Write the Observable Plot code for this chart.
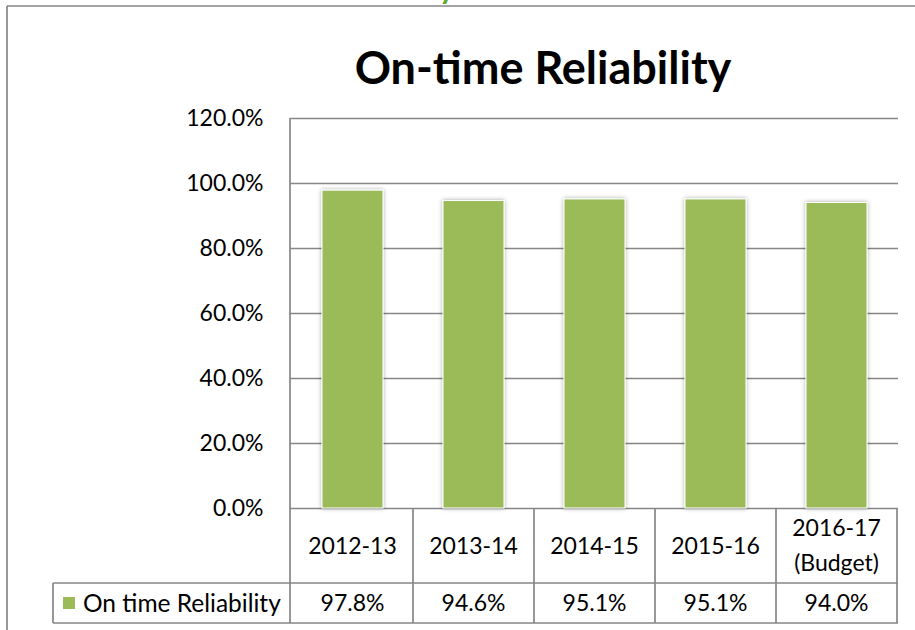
<!DOCTYPE html>
<html><head><meta charset="utf-8">
<script src="https://cdn.jsdelivr.net/npm/d3@7"></script>
<script src="https://cdn.jsdelivr.net/npm/@observablehq/plot@0.6"></script>
<style>
html,body{margin:0;padding:0;background:#fff;}
#chart{position:relative;width:915px;height:630px;overflow:hidden;}
#chart svg{display:block;}
</style></head><body><div id="chart"></div>
<script>
// ---- data ----
const categories = ["2012-13", "2013-14", "2014-15", "2015-16", "2016-17\n(Budget)"];
const values = [0.978, 0.946, 0.951, 0.951, 0.940];
const valueLabels = ["97.8%", "94.6%", "95.1%", "95.1%", "94.0%"];
const yTicks = [0, 0.2, 0.4, 0.6, 0.8, 1.0, 1.2];
const seriesName = "On time Reliability";
const titleText = "On-time Reliability";

const data = categories.map((c, i) => ({cat: c, value: values[i], label: valueLabels[i]}));
const FONT = "Lato, 'Open Sans', 'Liberation Sans', sans-serif";
const GRID = "#868686";
const BAR = "#9BBB59";

const chart = Plot.plot({
  width: 915, height: 630,
  marginLeft: 290, marginRight: 17, marginTop: 118, marginBottom: 122,
  style: {fontFamily: FONT, fontSize: "23px", color: "#000", background: "#fff", overflow: "visible"},
  x: {type: "band", domain: categories, paddingInner: 0.5, paddingOuter: 0.25, axis: null},
  y: {domain: [0, 1.2], ticks: yTicks, tickFormat: d => (d * 100).toFixed(1) + "%", tickSize: 0, tickPadding: 27, label: null},
  marks: [
    Plot.ruleY(yTicks, {stroke: GRID, strokeWidth: 1.7}),
    Plot.barY(data, {x: "cat", y: "value", fill: BAR, stroke: "#fff", strokeWidth: 1})
  ]
});
document.getElementById("chart").appendChild(chart);

const svg = d3.select(chart);
const sx = chart.scale("x"), sy = chart.scale("y");
const step = sx.step, bw = sx.bandwidth;
const xL = sx.range[0], xR = sx.range[1];
const yBase = sy.apply(0), yTop = sy.apply(1.2);
const row1 = yBase + 75, row2 = row1 + 40;
const legendLeft = 53;

// bar shadow
const defs = svg.insert("defs", ":first-child");
const f = defs.append("filter").attr("id", "barShadow").attr("x", "-20%").attr("y", "-20%").attr("width", "140%").attr("height", "140%");
f.append("feDropShadow").attr("dx", 0).attr("dy", 0).attr("stdDeviation", 2.2).attr("flood-color", "#000").attr("flood-opacity", 0.35);
svg.selectAll('g[aria-label="bar"]').attr("filter", "url(#barShadow)");

const g = svg.append("g").attr("stroke", GRID).attr("stroke-width", 1.7).attr("fill", "none");
// y axis line + table left border
g.append("line").attr("x1", xL).attr("x2", xL).attr("y1", yTop).attr("y2", row2);
// table column boundaries
categories.forEach(c => {
  const xr = sx.apply(c) + bw / 2 + step / 2;
  g.append("line").attr("x1", xr).attr("x2", xr).attr("y1", yBase).attr("y2", row2);
});
g.append("line").attr("x1", legendLeft).attr("x2", xR).attr("y1", row1).attr("y2", row1);
g.append("line").attr("x1", legendLeft).attr("x2", xR).attr("y1", row2).attr("y2", row2);
g.append("line").attr("x1", legendLeft).attr("x2", legendLeft).attr("y1", row1).attr("y2", row2);

// outer frame (cropped on right/bottom)
g.append("line").attr("x1", 7).attr("x2", 7).attr("y1", 6).attr("y2", 630);
g.append("line").attr("x1", 7).attr("x2", 915).attr("y1", 6).attr("y2", 6);

const t = svg.append("g").attr("font-family", FONT).attr("font-size", 23).attr("fill", "#000").attr("text-anchor", "middle");
// category labels
categories.forEach(c => {
  const cx = sx.apply(c) + bw / 2;
  const lines = c.split("\n");
  const mid = (yBase + row1) / 2;
  lines.forEach((ln, i) => {
    t.append("text").attr("x", cx).attr("y", mid + (i - (lines.length - 1) / 2) * 35).attr("dy", "0.35em").text(ln);
  });
});
// value labels
data.forEach(d => {
  const cx = sx.apply(d.cat) + bw / 2;
  t.append("text").attr("x", cx).attr("y", (row1 + row2) / 2).attr("dy", "0.35em").text(d.label);
});
// legend
svg.append("rect").attr("x", 63).attr("y", (row1 + row2) / 2 - 6).attr("width", 12).attr("height", 12).attr("fill", BAR);
t.append("text").attr("x", 83).attr("y", (row1 + row2) / 2).attr("dy", "0.35em").attr("text-anchor", "start")
  .attr("font-size", 24.5).text(seriesName);

// title
svg.append("text").attr("x", 543).attr("y", 84).attr("text-anchor", "middle")
  .attr("font-family", FONT).attr("font-weight", "bold").attr("font-size", 45).attr("fill", "#000").text(titleText);
// cut-off heading fragment at top edge (as in the reference)
svg.append("text").attr("x", 447).attr("y", -1).attr("text-anchor", "middle")
  .attr("font-family", FONT).attr("font-weight", "bold").attr("font-size", 30).attr("fill", "#5aab2e").text("y");
</script></body></html>
